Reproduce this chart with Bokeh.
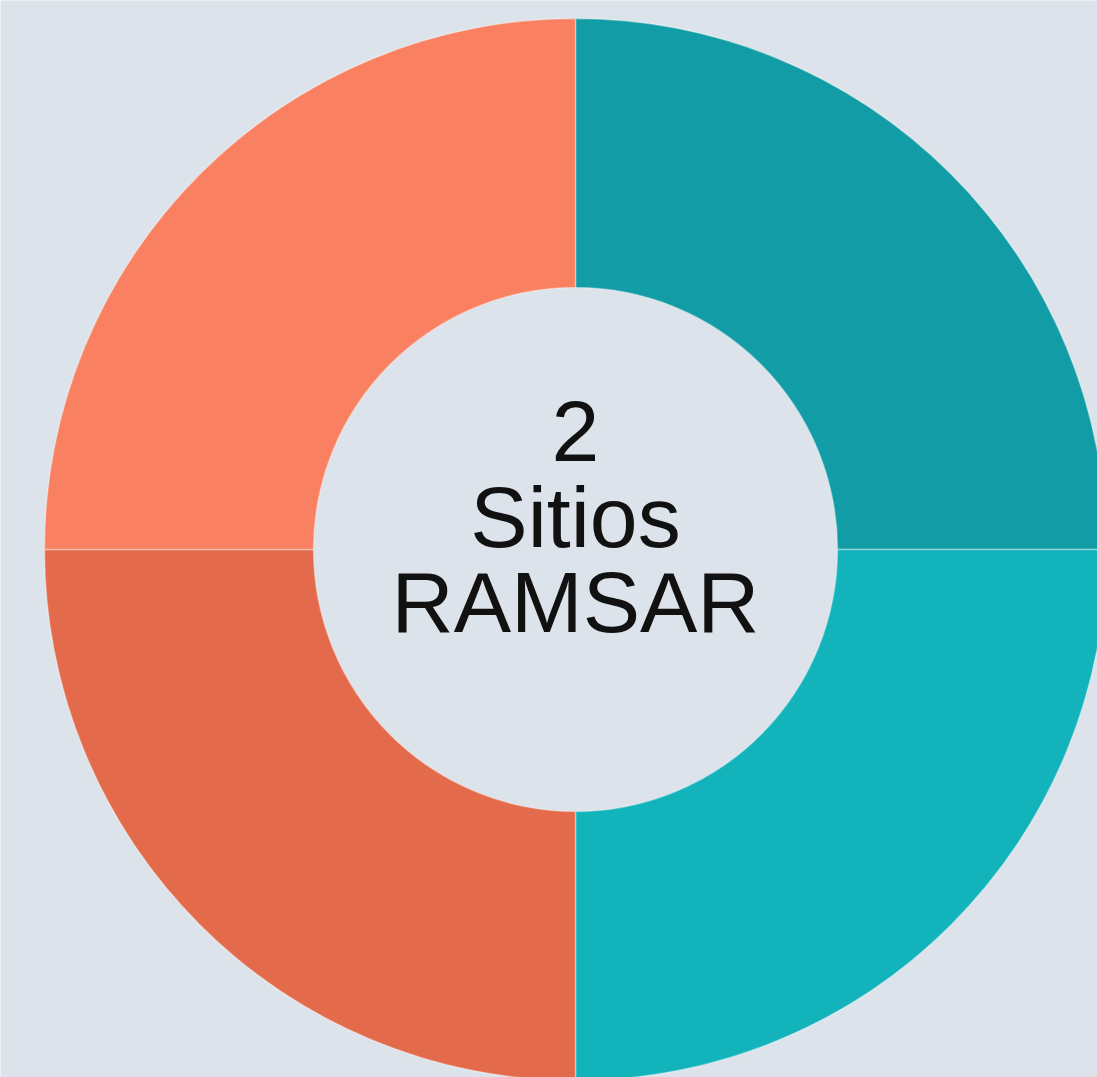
import numpy as np
from bokeh.plotting import figure
from bokeh.models import Range1d, ColumnDataSource
from bokeh.core.properties import value
from bokeh.embed import file_html
from bokeh.resources import INLINE

# Data (equal shares, clockwise from 12 o'clock)
categories = ["Sector 1", "Sector 2", "Sector 3", "Sector 4"]
values = [1, 1, 1, 1]
colors = ["#129CA5", "#13B3BC", "#E36A4A", "#F98060"]
center_lines = ["2", "Sitios", "RAMSAR"]

W, H = 1097, 1077
BG = "#DCE3EA"
cx, cy = 575, H - 549
r_in, r_out = 262, 531

vals = np.array(values, dtype=float)
frac = vals / vals.sum()
ends = np.pi / 2 - 2 * np.pi * np.cumsum(frac)
starts = np.concatenate([[np.pi / 2], ends[:-1]])

src = ColumnDataSource(dict(
    cat=categories, start=starts, end=ends, color=colors,
    x=[cx] * len(values), y=[cy] * len(values),
))

p = figure(width=W, height=H, output_backend="svg", toolbar_location=None,
           x_range=Range1d(0, W), y_range=Range1d(0, H), min_border=0,
           background_fill_color=BG, border_fill_color=BG, outline_line_color=None)
p.axis.visible = False
p.grid.visible = False

p.annular_wedge(x="x", y="y", inner_radius=r_in, outer_radius=r_out,
                start_angle="start", end_angle="end", direction="clock",
                fill_color="color", line_color="#ffffff", line_alpha=0.35,
                line_width=1.5, source=src)

baselines = [H - 431, H - 516, H - 601]
p.text(x=[cx] * 3, y=baselines, text=center_lines,
       text_font=value("Liberation Sans"), text_font_size="86px",
       text_align="center", text_baseline="alphabetic", text_color="#111111")

open("out.html", "w").write(file_html(p, INLINE))
